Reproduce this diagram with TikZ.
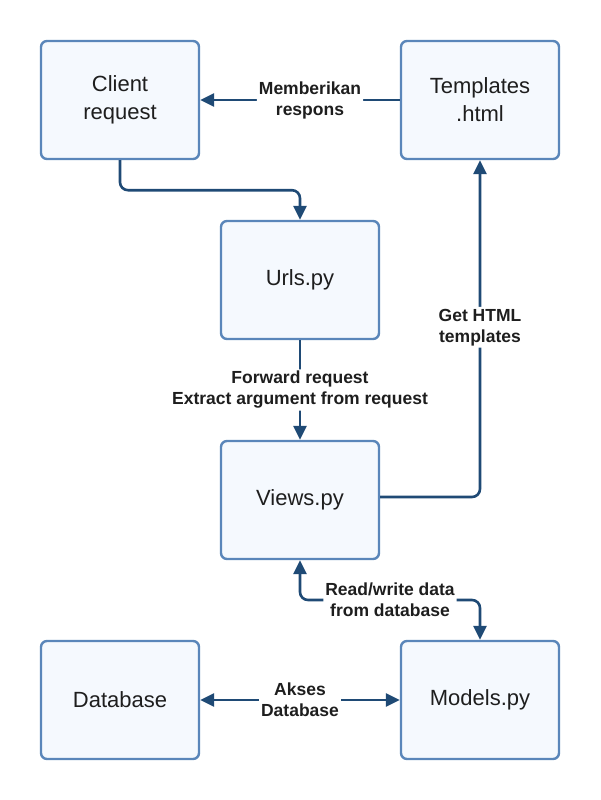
\documentclass[tikz,border=0pt]{standalone}
\usepackage{fontspec}
\setmainfont{Liberation Sans}
\usetikzlibrary{arrows.meta}
\definecolor{boxfill}{HTML}{F5F9FE}
\definecolor{boxline}{HTML}{5A86BA}
\definecolor{arrcol}{HTML}{1F4A75}
\definecolor{txt}{HTML}{1E1E1E}
\tikzset{
  box/.style={draw=boxline, line width=2.4pt, fill=boxfill, rounded corners=6pt,
    minimum width=158pt, minimum height=118pt, text width=150pt, align=center,
    font=\fontsize{22}{28}\selectfont, text=txt},
  conn/.style={draw=arrcol, line width=2.6pt, rounded corners=8pt},
  ah/.tip={Triangle[length=14pt,width=13pt]},
  tip/.style={-ah},
  lbl/.style={fill=white, font=\bfseries\fontsize{17.5}{21}\selectfont, text=txt, align=center, inner sep=2pt}
}
\begin{document}
\begin{tikzpicture}[x=1pt,y=-1pt]
\useasboundingbox (0,0) rectangle (600,800);
\node[box] (client) at (120,100) {Client\\request};
\node[box] (tmpl) at (480,100) {Templates\\.html};
\node[box] (urls) at (300,280) {Urls.py};
\node[box] (views) at (300,500) {Views.py};
\node[box] (db) at (120,700) {Database};
\node[box] (models) at (480,700) {Models.py};

\draw[conn,tip] (client.south) -- ++(0,30) -| (urls.north);
\draw[conn,tip] (tmpl.west) -- node[lbl, pos=0.45]{Memberikan\\respons} (client.east);
\draw[conn,tip] (urls.south) -- node[lbl]{Forward request\\Extract argument from request} (views.north);
\draw[conn,tip] (views.east) ++(0,-3) -| node[lbl, pos=0.752]{Get HTML\\templates} (tmpl.south);
\draw[conn,ah-ah] (views.south) |- (390,600) node[lbl]{Read/write data\\from database} -| (models.north);
\draw[conn,ah-ah] (db.east) -- node[lbl]{Akses\\Database} (models.west);
\end{tikzpicture}
\end{document}
